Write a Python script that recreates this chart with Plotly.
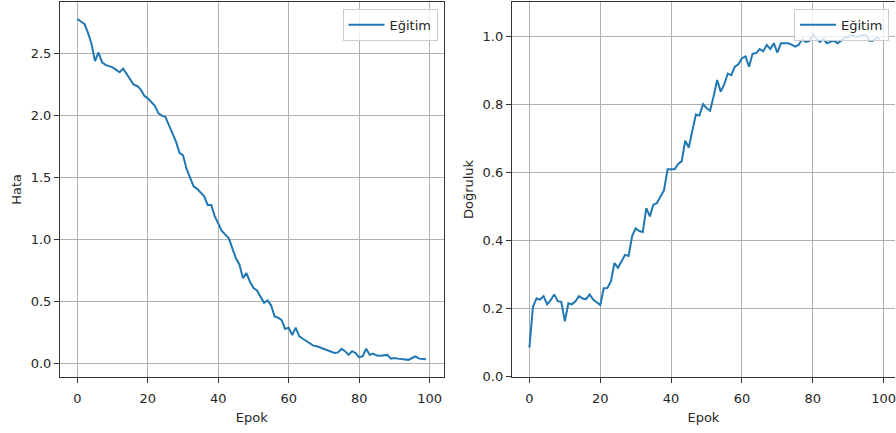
import plotly.graph_objects as go

epochs = list(range(100))

loss = [2.78, 2.76, 2.74, 2.67, 2.58, 2.44, 2.51, 2.43, 2.41, 2.40,
        2.39, 2.37, 2.35, 2.38, 2.34, 2.29, 2.25, 2.24, 2.21, 2.16,
        2.14, 2.11, 2.08, 2.02, 2.00, 1.99, 1.92, 1.85, 1.79, 1.70,
        1.68, 1.57, 1.50, 1.43, 1.41, 1.38, 1.35, 1.28, 1.28, 1.19,
        1.13, 1.07, 1.04, 1.01, 0.93, 0.85, 0.80, 0.69, 0.73, 0.66,
        0.61, 0.59, 0.54, 0.49, 0.51, 0.47, 0.38, 0.37, 0.35, 0.28,
        0.29, 0.23, 0.29, 0.22, 0.20, 0.18, 0.16, 0.145, 0.14, 0.13,
        0.12, 0.11, 0.10, 0.085, 0.09, 0.12, 0.10, 0.07, 0.10, 0.085,
        0.05, 0.06, 0.12, 0.07, 0.08, 0.065, 0.063, 0.065, 0.07, 0.04,
        0.045, 0.04, 0.037, 0.037, 0.03, 0.045, 0.058, 0.04, 0.035, 0.035]

accuracy = [0.086, 0.206, 0.230, 0.227, 0.237, 0.213, 0.225, 0.242, 0.222, 0.220,
            0.163, 0.216, 0.213, 0.222, 0.237, 0.230, 0.228, 0.242, 0.227, 0.220,
            0.211, 0.260, 0.261, 0.280, 0.334, 0.320, 0.341, 0.358, 0.355, 0.413,
            0.436, 0.428, 0.425, 0.495, 0.471, 0.505, 0.510, 0.527, 0.548, 0.609,
            0.609, 0.609, 0.625, 0.633, 0.693, 0.673, 0.722, 0.770, 0.767, 0.800,
            0.789, 0.781, 0.823, 0.871, 0.837, 0.858, 0.890, 0.885, 0.910, 0.917,
            0.935, 0.940, 0.910, 0.948, 0.950, 0.962, 0.955, 0.974, 0.962, 0.979,
            0.951, 0.979, 0.979, 0.979, 0.975, 0.969, 0.974, 0.991, 0.983, 0.985,
            1.004, 0.993, 0.983, 0.991, 0.979, 0.983, 0.986, 0.979, 0.986, 0.996,
            0.998, 1.003, 0.998, 0.999, 1.003, 1.003, 0.986, 0.986, 0.996, 0.991]

series_name = "Eğitim"
x_title = "Epok"
y_titles = ["Hata", "Doğruluk"]

W, H = 896, 433
FONT = "DejaVu Sans"
FS = 13
TXT = "#262626"
GRID = "#b0b0b0"
BLUE = "#1f77b4"

fig = go.Figure()
fig.add_trace(go.Scatter(x=epochs, y=loss, mode="lines", name=series_name,
                         line=dict(color=BLUE, width=2), xaxis="x", yaxis="y",
                         legend="legend"))
fig.add_trace(go.Scatter(x=epochs, y=accuracy, mode="lines", name=series_name,
                         line=dict(color=BLUE, width=2), xaxis="x2", yaxis="y2",
                         legend="legend2"))

def px(v):
    return v / W

def py(v):
    return (H - v) / H

ydom = [py(384), py(2)]
tf = dict(family=FONT, size=FS, color=TXT)

common_x = dict(showgrid=True, gridcolor=GRID, gridwidth=1, zeroline=False,
                showline=True, linecolor="#333333", linewidth=1,
                ticks="outside", ticklen=5, tickcolor="#333333",
                tickfont=tf, tickvals=[0, 20, 40, 60, 80, 100],
                ticklabelstandoff=4, ticklabeloverflow="allow",
                title=dict(text=x_title, font=tf, standoff=8))

leg_common = dict(xanchor="right", yanchor="top", y=py(9),
                  bgcolor="rgba(255,255,255,0.8)", bordercolor="#cccccc", borderwidth=1,
                  font=tf, itemwidth=36)

fig.update_layout(
    width=W, height=H,
    margin=dict(l=0, r=0, t=0, b=0),
    paper_bgcolor="white", plot_bgcolor="white",
    font=tf,
    xaxis=dict(common_x, domain=[px(60.0), px(444.0)], range=[-4.95, 103.95],
               mirror=True, anchor="y"),
    yaxis=dict(domain=ydom, range=[-0.1075, 2.9175], anchor="x",
               showgrid=True, gridcolor=GRID, gridwidth=1, zeroline=False,
               showline=True, linecolor="#333333", linewidth=1, mirror=True,
               ticks="outside", ticklen=5, tickcolor="#333333",
               tickvals=[0, 0.5, 1.0, 1.5, 2.0, 2.5],
               ticktext=["0.0", "0.5", "1.0", "1.5", "2.0", "2.5"],
               tickfont=tf,
               title=dict(text=y_titles[0], font=tf, standoff=6)),
    xaxis2=dict(common_x, domain=[px(512.45), 1.0], range=[-4.95, 103.21],
                mirror=True, anchor="y2"),
    yaxis2=dict(domain=ydom, range=[0, 1.1], anchor="x2",
                showgrid=True, gridcolor=GRID, gridwidth=1, zeroline=False,
                showline=True, linecolor="#333333", linewidth=1, mirror=False,
                ticks="outside", ticklen=5, tickcolor="#333333",
                tickvals=[0, 0.2, 0.4, 0.6, 0.8, 1.0],
                ticktext=["0.0", "0.2", "0.4", "0.6", "0.8", "1.0"],
                tickfont=tf,
                title=dict(text=y_titles[1], font=tf, standoff=6)),
    legend=dict(leg_common, x=px(438)),
    legend2=dict(leg_common, x=px(890)),
    showlegend=True,
)

fig.write_html("out.html", config={"displayModeBar": False},
               post_script="document.body.style.margin='0';document.body.style.overflow='hidden';")
